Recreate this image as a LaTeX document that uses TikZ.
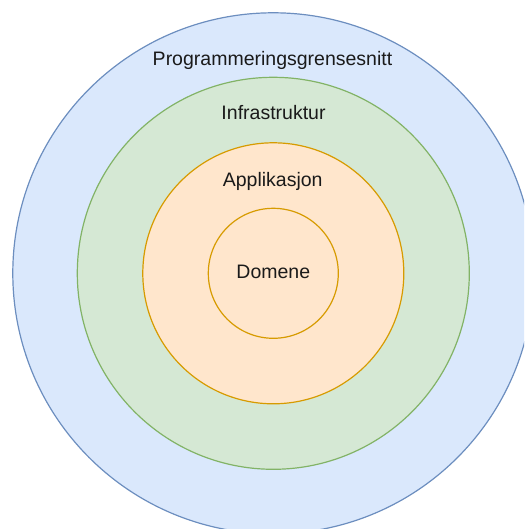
\documentclass[tikz,border=0pt]{standalone}
\usepackage{fontspec}
\setmainfont{Liberation Sans}
\definecolor{bluefill}{HTML}{DAE8FC}
\definecolor{bluedraw}{HTML}{6C8EBF}
\definecolor{greenfill}{HTML}{D5E8D4}
\definecolor{greendraw}{HTML}{82B366}
\definecolor{orangefill}{HTML}{FFE6CC}
\definecolor{orangedraw}{HTML}{D79B00}
\definecolor{txt}{HTML}{1A1A1A}
\begin{document}
\begin{tikzpicture}[x=1pt,y=-1pt,
  ring/.style={circle, draw, line width=1.2pt, inner sep=0pt},
  lbl/.style={font=\fontsize{19.5}{23}\selectfont, inner sep=0pt, text=txt}]
\useasboundingbox (0,0) rectangle (524,529);
\clip (0,0) rectangle (524,529);
\node[ring, fill=bluefill, draw=bluedraw, minimum size=521pt] (api) at (273.3,273.3) {};
\node[ring, fill=greenfill, draw=greendraw, minimum size=392pt] (infra) at (273.3,273.3) {};
\node[ring, fill=orangefill, draw=orangedraw, minimum size=261pt] (app) at (273.3,273.3) {};
\node[ring, fill=orangefill, draw=orangedraw, minimum size=130pt] (dom) at (273.3,273.3) {};
\node[lbl] (tapi) at (272.5,60) {Programmeringsgrensesnitt};
\node[lbl] (tinfra) at (273.5,112.5) {Infrastruktur};
\node[lbl] (tapp) at (272.7,181.7) {Applikasjon};
\node[lbl] (tdom) at (273.3,272) {Domene};
\end{tikzpicture}
\end{document}
